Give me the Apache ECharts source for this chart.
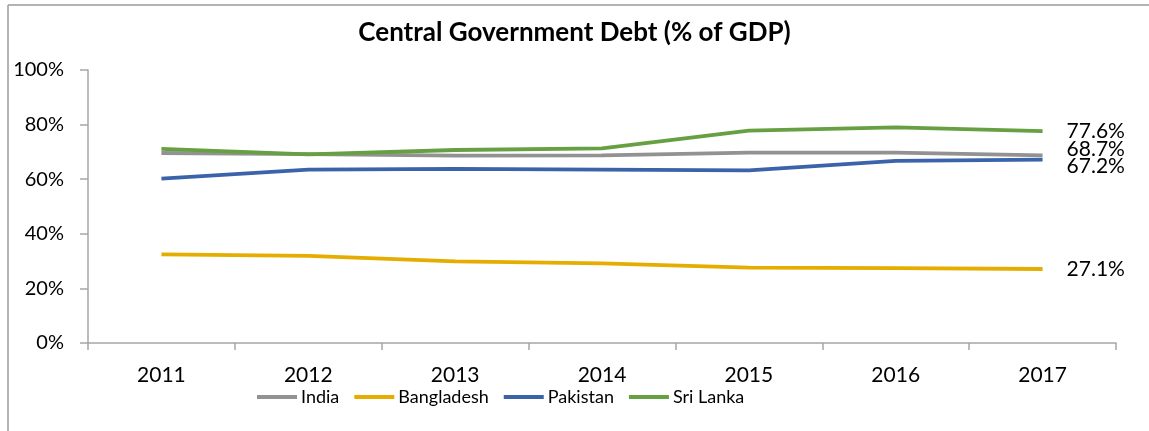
<!DOCTYPE html>
<html>
<head>
<meta charset="utf-8">
<script src="https://cdn.jsdelivr.net/npm/echarts@6/dist/echarts.min.js"></script>
<style>html,body{margin:0;padding:0;background:#fff;}#c{width:1149px;height:431px;}</style>
</head>
<body>
<div id="c"></div>
<script>
const years = ['2011','2012','2013','2014','2015','2016','2017'];
const india = [69.6, 69.2, 68.6, 68.7, 69.7, 69.7, 68.7];
const bangladesh = [32.5, 31.9, 29.9, 29.2, 27.6, 27.4, 27.1];
const pakistan = [60.2, 63.5, 63.8, 63.5, 63.2, 66.7, 67.2];
const sriLanka = [71.1, 69.1, 70.7, 71.3, 77.8, 79.0, 77.6];
const yTicks = [0, 20, 40, 60, 80, 100];

const FONT = 'Lato';
const chart = echarts.init(document.getElementById('c'));

function mk(name, data, color, labelOffsetY) {
  return {
    name, type: 'line', data, symbol: 'none', smooth: false,
    lineStyle: { color, width: 3.8 }, itemStyle: { color },
    endLabel: {
      show: true, distance: 24, offset: [0, labelOffsetY],
      formatter: p => p.value.toFixed(1) + '%',
      color: '#000', fontFamily: FONT, fontSize: 21
    },
    z: 2
  };
}

chart.setOption({
  animation: false,
  title: {
    text: 'Central Government Debt (% of GDP)',
    left: 'center', top: 15,
    textStyle: { fontFamily: FONT, fontWeight: 'bold', fontSize: 26, color: '#000' }
  },
  grid: { left: 88, right: 33, top: 70, bottom: 88, containLabel: false },
  legend: {
    left: 257, top: 388, padding: 0,
    itemWidth: 40, itemHeight: 4, itemGap: 15,
    icon: 'rect',
    textStyle: { fontFamily: FONT, fontSize: 18, color: '#000', padding: [0, 0, 0, -1] },
    data: ['India', 'Bangladesh', 'Pakistan', 'Sri Lanka']
  },
  xAxis: {
    type: 'category', data: years, boundaryGap: true,
    axisLine: { lineStyle: { color: '#a6a6a6', width: 1.5 } },
    axisTick: { show: true, length: 7, alignWithLabel: false, lineStyle: { color: '#a6a6a6', width: 1.5 } },
    axisLabel: { margin: 22, fontFamily: FONT, fontSize: 21, color: '#000' },
    splitLine: { show: false }
  },
  yAxis: {
    type: 'value', min: yTicks[0], max: yTicks[yTicks.length - 1], interval: 20,
    axisLine: { show: true, lineStyle: { color: '#a6a6a6', width: 1.5 } },
    axisTick: { show: true, length: 8, inside: false, lineStyle: { color: '#a6a6a6', width: 1.5 } },
    axisLabel: { margin: 24, fontFamily: FONT, fontSize: 20, color: '#000', formatter: '{value}%' },
    splitLine: { show: false }
  },
  graphic: [
    { type: 'line', shape: { x1: 8, y1: 5, x2: 1149, y2: 5 }, style: { stroke: '#9a9a9a', lineWidth: 1.5 } },
    { type: 'line', shape: { x1: 8, y1: 5, x2: 8, y2: 431 }, style: { stroke: '#9a9a9a', lineWidth: 1.5 } }
  ],
  series: [
    mk('India', india, '#929292', -6),
    mk('Bangladesh', bangladesh, '#E5AD00', 0),
    mk('Pakistan', pakistan, '#3B63AA', 7),
    mk('Sri Lanka', sriLanka, '#66A042', 0)
  ]
});
</script>
</body>
</html>
